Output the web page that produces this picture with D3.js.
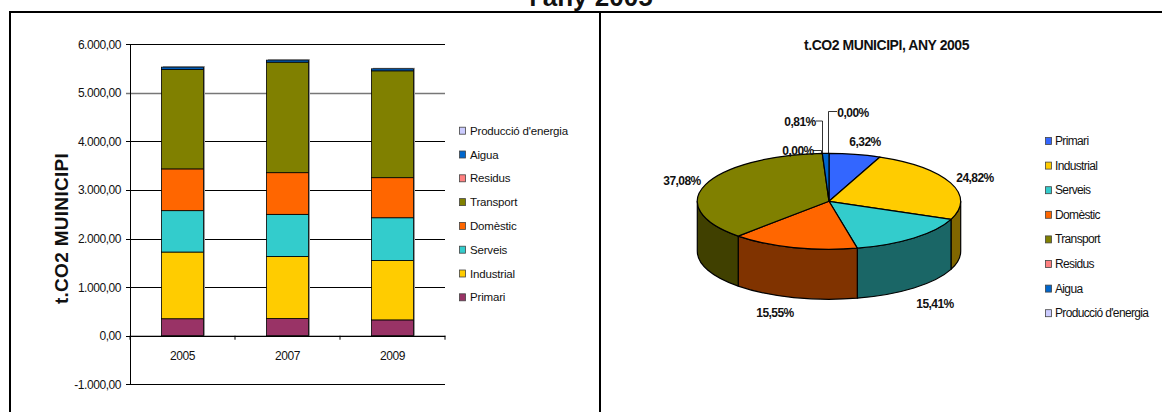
<!DOCTYPE html>
<html><head><meta charset="utf-8">
<script src="https://cdn.jsdelivr.net/npm/d3@7"></script>
<style>
html,body{margin:0;padding:0;background:#fff}
svg{display:block}
text{font-family:"Liberation Sans",Arial,sans-serif;fill:#111}
</style></head><body><svg id="c" width="1162" height="412"></svg>
<script>
const years=["2005","2007","2009"];
const seriesNames=["Primari","Industrial","Serveis","Domèstic","Transport","Residus","Aigua","Producció d'energia"];
const primari=[350,355,326];
const industrial=[1373,1278,1224];
const serveis=[852,866,879];
const domestic=[860,858,825];
const transport=[2050,2276,2200];
const residus=[0,0,0];
const aigua=[45,41,41];
const produccio=[0,0,0];
const barColors=["#993366","#FFCC00","#33CCCC","#FF6600","#808000","#FF8080","#0066CC","#CCCCFF"];
const pieColors=["#3366FF","#FFCC00","#33CCCC","#FF6600","#808000","#FF8080","#0066CC","#CCCCFF"];
const sideColors=["#1A3380","#806600","#1A6666","#803300","#404000","#804040","#003366","#666680"];
const pieValues=[6.32,24.82,15.41,15.55,37.08,0,0.81,0];
const pieLabels=["6,32%","24,82%","15,41%","15,55%","37,08%","0,00%","0,81%","0,00%"];
const yTicks=[-1000,0,1000,2000,3000,4000,5000,6000];
const fmt=v=>{const s=Math.abs(v).toString().replace(/\B(?=(\d{3})+$)/g,".");return (v<0?"-":"")+s+",00";};

const svg=d3.select("#c");
// frame
const frame=svg.append("g").attr("fill","none").attr("stroke","#000").attr("stroke-width",2);
frame.append("path").attr("d","M10,412V12H1162");
frame.append("path").attr("d","M600,12V412");
svg.append("text").attr("x",591).attr("y",6).attr("text-anchor","middle").attr("font-size",26).attr("font-weight","bold").text("l'any 2005");

// stacked bars
const y=d3.scaleLinear().domain([-1000,6000]).range([384.3,44.3]);
const x=d3.scaleBand().domain(years).range([130,445]).paddingInner(0.6).paddingOuter(0.3);
const g=svg.append("g");
g.selectAll("line.grid").data(yTicks).join("line").attr("x1",126).attr("x2",445)
  .attr("y1",d=>Math.round(y(d))+.5).attr("y2",d=>Math.round(y(d))+.5)
  .attr("stroke",d=>d===5000?"#777":"#000").attr("stroke-width",d=>d===5000?1.5:1);
const rows=years.map((yr,i)=>({yr,v:[primari[i],industrial[i],serveis[i],domestic[i],transport[i],residus[i],aigua[i],produccio[i]]}));
const stack=d3.stack().keys(d3.range(8)).value((d,k)=>d.v[k]);
const layers=stack(rows);
// shadow
g.selectAll("rect.sh").data(rows).join("rect").attr("x",d=>x(d.yr)+1.5).attr("width",x.bandwidth())
  .attr("y",d=>y(d3.sum(d.v))-1).attr("height",d=>y(0)-y(d3.sum(d.v))+1).attr("fill","#999");
layers.forEach((l,k)=>{
  g.selectAll("rect.s"+k).data(l.filter(d=>d[1]>d[0])).join("rect")
   .attr("x",d=>x(d.data.yr)).attr("width",x.bandwidth())
   .attr("y",d=>y(d[1])).attr("height",d=>y(d[0])-y(d[1]))
   .attr("fill",barColors[k]).attr("stroke","#000").attr("stroke-width",.8);
});
const yAxis=d3.axisLeft(y).tickValues(yTicks).tickFormat(fmt).tickSize(0).tickPadding(9);
const ya=g.append("g").attr("transform","translate(130,0)").call(yAxis);
ya.select(".domain").attr("stroke","#000");
ya.selectAll("text").attr("font-size",12).attr("letter-spacing",-.45).attr("fill","#222").style("font-family",'"Liberation Sans"');
const xa=g.append("g").attr("transform",`translate(0,${y(0)})`)
  .call(d3.axisBottom(x).tickSize(0).tickPadding(16));
xa.select(".domain").attr("stroke","#000");
xa.selectAll("text").attr("font-size",12).attr("letter-spacing",-.45).attr("fill","#222").style("font-family",'"Liberation Sans"');
g.selectAll("line.xt").data(d3.range(4)).join("line")
  .attr("x1",d=>130+d*x.step()).attr("x2",d=>130+d*x.step())
  .attr("y1",y(0)).attr("y2",y(0)+4).attr("stroke","#000");
svg.append("text").attr("transform","translate(68,228.5) rotate(-90)").attr("text-anchor","middle")
  .attr("font-size",19).attr("font-weight","bold").attr("letter-spacing",.3).text("t.CO2 MUINICIPI");

// left legend
const leg1=[7,6,5,4,3,2,1,0];
const lg=svg.append("g");
leg1.forEach((k,i)=>{
  const yc=130.7+i*23.8;
  lg.append("rect").attr("x",459.5).attr("y",yc-3.5).attr("width",6).attr("height",7).attr("fill",barColors[k]).attr("stroke","#444").attr("stroke-width",.8);
  lg.append("text").attr("x",470).attr("y",yc+4).attr("font-size",11.5).attr("letter-spacing",-.18).attr("fill","#222").text(seriesNames[k]);
});

// 3D pie
const cx=829,cy=201.3,rx=131.7,ry=48,depth=50;
const pie=d3.pie().value(d=>d).sort(null);
const arcs=pie(pieValues);
const px=a=>cx+rx*Math.sin(a), py=a=>cy-ry*Math.cos(a);
const ell=`${rx} ${ry} 0`;
const p=svg.append("g").attr("stroke","#000").attr("stroke-width",1.2).attr("stroke-linejoin","round");
arcs.forEach((a,i)=>{
  const s=Math.max(a.startAngle,Math.PI/2), e=Math.min(a.endAngle,Math.PI*1.5);
  if(e<=s) return;
  p.append("path").attr("fill",sideColors[i])
   .attr("d",`M${px(s)},${py(s)}A${ell} 0 1 ${px(e)},${py(e)}L${px(e)},${py(e)+depth}A${ell} 0 0 ${px(s)},${py(s)+depth}Z`);
});
arcs.forEach((a,i)=>{
  if(a.endAngle<=a.startAngle) return;
  const large=a.endAngle-a.startAngle>Math.PI?1:0;
  p.append("path").attr("fill",pieColors[i])
   .attr("d",`M${cx},${cy}L${px(a.startAngle)},${py(a.startAngle)}A${ell} ${large} 1 ${px(a.endAngle)},${py(a.endAngle)}Z`);
});
svg.append("text").attr("x",886.5).attr("y",50).attr("text-anchor","middle").attr("font-size",14).attr("font-weight","bold").attr("letter-spacing",-.45).text("t.CO2 MUNICIPI, ANY 2005");
const labelPos=[[865,146],[975,182],[935,308],[775,316.5],[682,185],[798,154.5],[800,125.5],[853,116.5]];
pieLabels.forEach((t,i)=>{
  const q=labelPos[i];
  svg.append("text").attr("x",q[0]).attr("y",q[1]).attr("text-anchor","middle").attr("font-size",12).attr("font-weight","bold").attr("letter-spacing",-.55).text(t);
});
const leader=svg.append("g").attr("fill","none").attr("stroke","#000").attr("stroke-width",.8);
leader.append("path").attr("d","M813,150.5H821.5V153");
leader.append("path").attr("d","M816,121H822.5V153");
leader.append("path").attr("d","M837,111.5H828.5V153");

// right legend
seriesNames.forEach((n,k)=>{
  const yc=141+k*24.6;
  svg.append("rect").attr("x",1045.5).attr("y",yc-3.5).attr("width",6).attr("height",7).attr("fill",pieColors[k]).attr("stroke","#444").attr("stroke-width",.8);
  svg.append("text").attr("x",1055).attr("y",yc+4).attr("font-size",12).attr("letter-spacing",-.65).attr("fill","#222").text(n);
});
</script></body></html>
